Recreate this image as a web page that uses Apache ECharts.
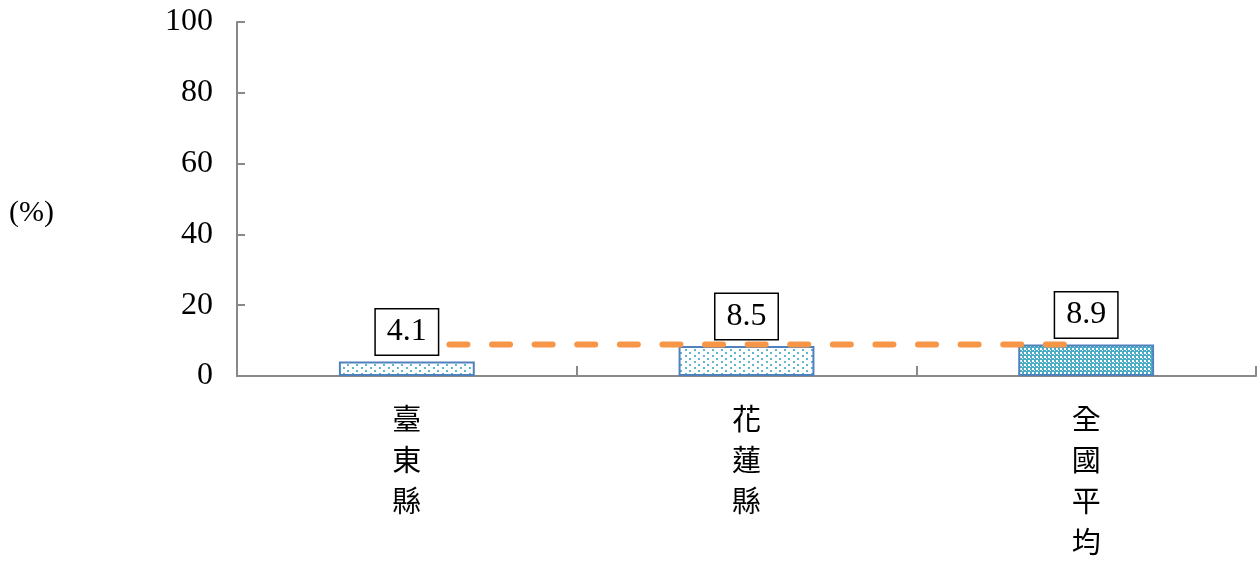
<!DOCTYPE html>
<html>
<head>
<meta charset="utf-8">
<script src="https://cdn.jsdelivr.net/npm/echarts@6/dist/echarts.min.js"></script>
<style>
    html, body { margin: 0; padding: 0; background: #fff; }
    #chart { width: 1260px; height: 562px; }
</style>
</head>
<body>
<div id="chart"></div>
<script>
// 資料
var categories = ["臺東縣", "花蓮縣", "全國平均"];
var rateValues = [4.1, 8.5, 8.9];
var averageValues = [8.9, 8.9, 8.9];
var yTicks = [0, 20, 40, 60, 80, 100];

// 點狀填色
function makeDots() {
    var c = document.createElement("canvas");
    c.width = 9; c.height = 6;
    var ctx = c.getContext("2d");
    ctx.fillStyle = "#ffffff";
    ctx.fillRect(0, 0, 9, 6);
    ctx.fillStyle = "#5fb6cf";
    ctx.fillRect(1, 1, 2, 2);
    ctx.fillRect(5, 4, 2, 2);
    return c;
}
// 密集格狀填色
function makeDense() {
    var c = document.createElement("canvas");
    c.width = 4; c.height = 4;
    var ctx = c.getContext("2d");
    ctx.fillStyle = "#4bacc6";
    ctx.fillRect(0, 0, 4, 4);
    ctx.fillStyle = "#ffffff";
    ctx.fillRect(0, 0, 2, 2);
    ctx.fillRect(2, 2, 1, 1);
    return c;
}

var dots = makeDots(), dense = makeDense();
var patterns = [dots, dots, dense];

var chart = echarts.init(document.getElementById("chart"));

var option = {
    animation: false,
    grid: { left: 237, right: 4, top: 22, bottom: 184 },
    graphic: [{
        type: "text",
        left: 9,
        top: 198,
        style: {
            text: "(%)",
            font: "30px 'Liberation Serif', serif",
            fill: "#000"
        }
    }],
    xAxis: {
        type: "category",
        data: categories,
        axisLine: { lineStyle: { color: "#898989", width: 2 } },
        axisTick: { show: true, inside: true, length: 10, lineStyle: { color: "#898989", width: 2 } },
        axisLabel: {
            margin: 22,
            fontSize: 29,
            lineHeight: 41,
            color: "#000",
            fontFamily: "'Noto Sans CJK TC', sans-serif",
            formatter: function (v) { return v.split("").join("\n"); }
        }
    },
    yAxis: {
        type: "value",
        min: 0,
        max: 100,
        interval: 20,
        splitLine: { show: false },
        axisLine: { show: true, lineStyle: { color: "#898989", width: 2 } },
        axisTick: { show: true, inside: true, length: 8, lineStyle: { color: "#898989", width: 2 } },
        axisLabel: {
            margin: 24,
            fontSize: 32,
            color: "#000",
            fontFamily: "'Liberation Serif', serif",
            formatter: function (v) { return yTicks.indexOf(v) >= 0 ? String(v) : ""; }
        }
    },
    series: [
        {
            name: "rate",
            type: "bar",
            barWidth: "40%",
            z: 2,
            data: rateValues.map(function (v, i) {
                return {
                    value: v,
                    itemStyle: {
                        color: { image: patterns[i], repeat: "repeat" },
                        borderColor: "#4f81bd",
                        borderWidth: 2
                    }
                };
            })
        },
        {
            name: "average",
            type: "line",
            z: 3,
            data: averageValues,
            symbol: "none",
            lineStyle: { color: "#f79646", width: 6, type: [18, 24.6], cap: "round" }
        },
        {
            name: "label",
            type: "bar",
            barWidth: "40%",
            barGap: "-100%",
            z: 4,
            data: rateValues,
            itemStyle: { color: "rgba(0,0,0,0)" },
            label: {
                show: true,
                position: "top",
                distance: 7,
                fontSize: 32,
                lineHeight: 31,
                color: "#000",
                fontFamily: "'Liberation Serif', serif",
                backgroundColor: "#fff",
                borderColor: "#000",
                borderWidth: 1.5,
                padding: [7, 11]
            }
        }
    ]
};

chart.setOption(option);
</script>
</body>
</html>
